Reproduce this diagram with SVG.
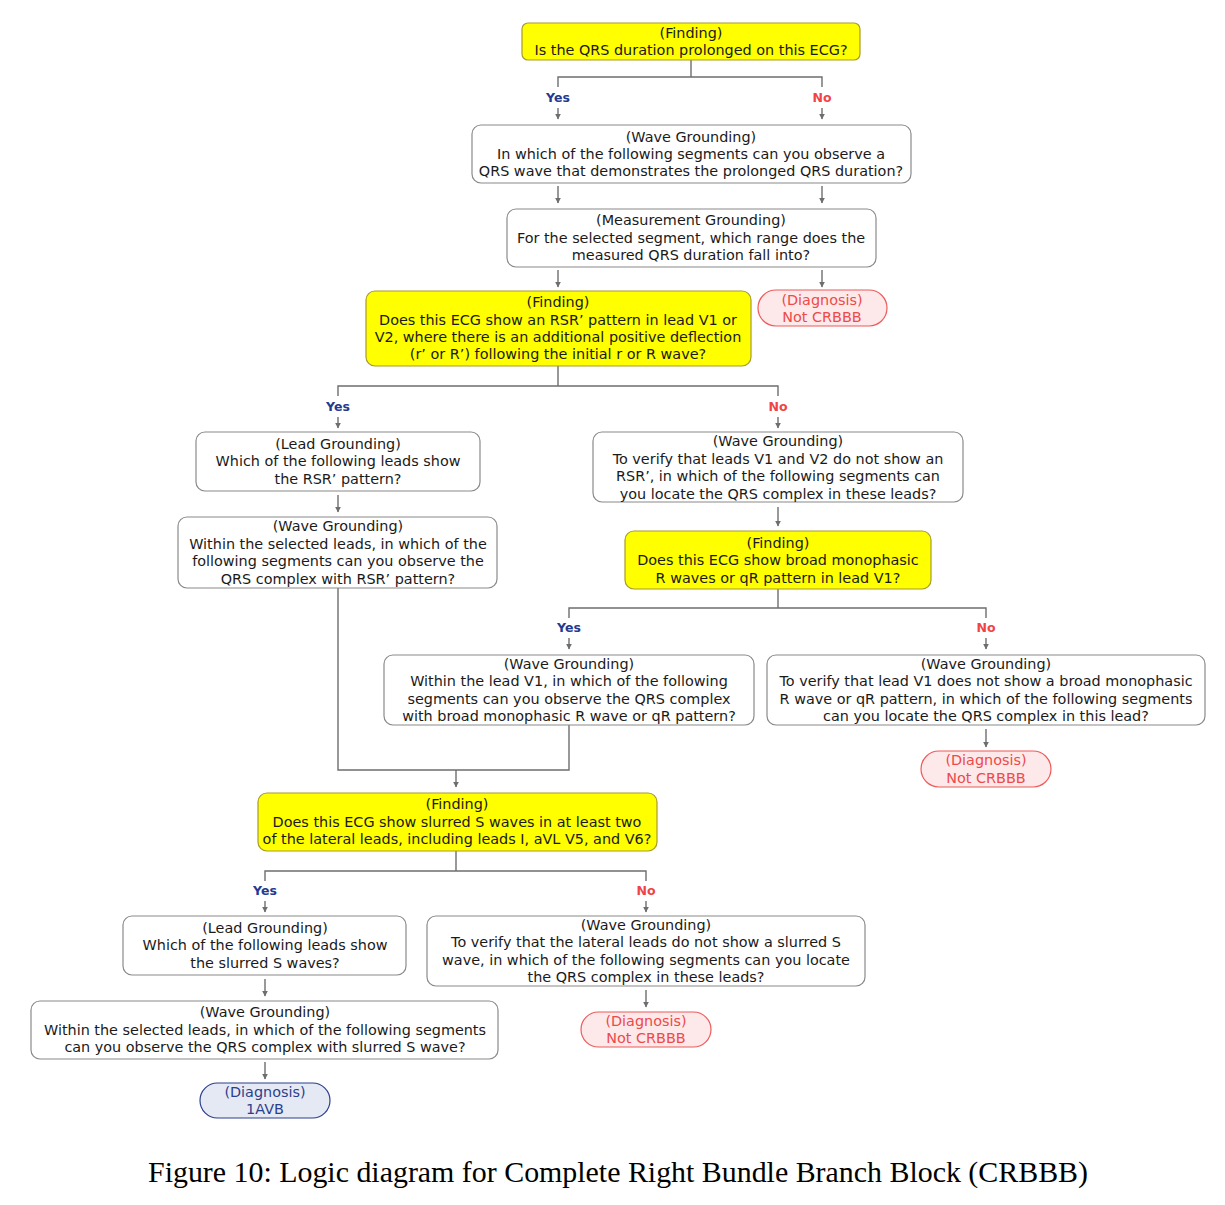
<svg xmlns="http://www.w3.org/2000/svg" width="1225" height="1205" viewBox="0 0 1225 1205">
<style>
.n{fill:#fff;stroke:#8a8a8a;stroke-width:1.2}
.f{fill:#ffff00;stroke:#a89c2a;stroke-width:1.2}
.dn{fill:#fde9e9;stroke:#ee5a5a;stroke-width:1.2}
.db{fill:#e5e9f4;stroke:#2c3f8c;stroke-width:1.2}
text{font-family:"DejaVu Sans","Liberation Sans",sans-serif;font-size:14.4px;text-anchor:middle;fill:#1a1a1a;dominant-baseline:central}
.rt{fill:#ee4a4a}
.bt{fill:#2c3f8c}
.y{font-weight:bold;fill:#233a8e;font-size:12.5px}
.no{font-weight:bold;fill:#f04444;font-size:12.5px}
.c{fill:none;stroke:#6e6e6e;stroke-width:1.4}
.cap{font-family:"Liberation Serif",serif;font-size:29.5px;dominant-baseline:alphabetic;fill:#000}
</style>
<defs>
<marker id="a" viewBox="0 0 10 10" refX="9" refY="5" markerWidth="6" markerHeight="6" orient="auto" markerUnits="userSpaceOnUse">
<path d="M0,0L10,5L0,10z" fill="#6e6e6e"/>
</marker>
</defs>
<g id="connectors">
<path class="c" d="M691,60V77M558,87V77H822V87"/>
<path class="c" d="M558,108V119" marker-end="url(#a)"/>
<path class="c" d="M822,108V119" marker-end="url(#a)"/>
<path class="c" d="M558,186V203" marker-end="url(#a)"/>
<path class="c" d="M822,186V203" marker-end="url(#a)"/>
<path class="c" d="M558,270V287" marker-end="url(#a)"/>
<path class="c" d="M822,270V287" marker-end="url(#a)"/>
<path class="c" d="M558,366V386M338,396V386H778V396"/>
<path class="c" d="M338,417V428" marker-end="url(#a)"/>
<path class="c" d="M778,417V428" marker-end="url(#a)"/>
<path class="c" d="M338,495V512" marker-end="url(#a)"/>
<path class="c" d="M778,507V526" marker-end="url(#a)"/>
<path class="c" d="M778,589V608M569,618V608H986V618"/>
<path class="c" d="M569,638V649" marker-end="url(#a)"/>
<path class="c" d="M986,638V649" marker-end="url(#a)"/>
<path class="c" d="M986,729V747" marker-end="url(#a)"/>
<path class="c" d="M338,588V770H569V725"/>
<path class="c" d="M456,770V787" marker-end="url(#a)"/>
<path class="c" d="M456,851V871M265,881V871H646V881"/>
<path class="c" d="M265,901V912" marker-end="url(#a)"/>
<path class="c" d="M646,901V912" marker-end="url(#a)"/>
<path class="c" d="M265,979V996" marker-end="url(#a)"/>
<path class="c" d="M646,990V1007" marker-end="url(#a)"/>
<path class="c" d="M265,1062V1079" marker-end="url(#a)"/>
<text class="y" x="558" y="97">Yes</text>
<text class="no" x="822" y="97">No</text>
<text class="y" x="338" y="406">Yes</text>
<text class="no" x="778" y="406">No</text>
<text class="y" x="569" y="627">Yes</text>
<text class="no" x="986" y="627">No</text>
<text class="y" x="265" y="890">Yes</text>
<text class="no" x="646" y="890">No</text>
</g>
<g id="n1"><rect class="f" x="522" y="23" width="338" height="37" rx="6"/>
<text x="691" y="33">(Finding)</text><text x="691" y="50">Is the QRS duration prolonged on this ECG?</text></g>
<g id="n2"><rect class="n" x="472" y="125" width="439" height="58" rx="9"/>
<text x="691" y="137">(Wave Grounding)</text><text x="691" y="154">In which of the following segments can you observe a</text><text x="691" y="171">QRS wave that demonstrates the prolonged QRS duration?</text></g>
<g id="n3"><rect class="n" x="507" y="209" width="369" height="58" rx="9"/>
<text x="691" y="220">(Measurement Grounding)</text><text x="691" y="238">For the selected segment, which range does the</text><text x="691" y="255">measured QRS duration fall into?</text></g>
<g id="n4"><rect class="f" x="366" y="291" width="385" height="75" rx="9"/>
<text x="558" y="302">(Finding)</text><text x="558" y="320">Does this ECG show an RSR’ pattern in lead V1 or</text><text x="558" y="337">V2, where there is an additional positive deflection</text><text x="558" y="354">(r’ or R’) following the initial r or R wave?</text></g>
<g id="d1"><rect class="dn" x="758" y="290" width="129" height="36" rx="18"/>
<text class="rt" x="822" y="300">(Diagnosis)</text><text class="rt" x="822" y="317">Not CRBBB</text></g>
<g id="n5"><rect class="n" x="196" y="432" width="284" height="59" rx="9"/>
<text x="338" y="444">(Lead Grounding)</text><text x="338" y="461">Which of the following leads show</text><text x="338" y="479">the RSR’ pattern?</text></g>
<g id="n6"><rect class="n" x="593" y="432" width="370" height="70" rx="9"/>
<text x="778" y="441">(Wave Grounding)</text><text x="778" y="459">To verify that leads V1 and V2 do not show an</text><text x="778" y="476">RSR’, in which of the following segments can</text><text x="778" y="494">you locate the QRS complex in these leads?</text></g>
<g id="n7"><rect class="n" x="178" y="517" width="319" height="71" rx="9"/>
<text x="338" y="526">(Wave Grounding)</text><text x="338" y="544">Within the selected leads, in which of the</text><text x="338" y="561">following segments can you observe the</text><text x="338" y="579">QRS complex with RSR’ pattern?</text></g>
<g id="n8"><rect class="f" x="625" y="531" width="306" height="58" rx="9"/>
<text x="778" y="543">(Finding)</text><text x="778" y="560">Does this ECG show broad monophasic</text><text x="778" y="578">R waves or qR pattern in lead V1?</text></g>
<g id="n9"><rect class="n" x="384" y="655" width="370" height="70" rx="9"/>
<text x="569" y="664">(Wave Grounding)</text><text x="569" y="681">Within the lead V1, in which of the following</text><text x="569" y="699">segments can you observe the QRS complex</text><text x="569" y="716">with broad monophasic R wave or qR pattern?</text></g>
<g id="n10"><rect class="n" x="767" y="655" width="438" height="70" rx="9"/>
<text x="986" y="664">(Wave Grounding)</text><text x="986" y="681">To verify that lead V1 does not show a broad monophasic</text><text x="986" y="699">R wave or qR pattern, in which of the following segments</text><text x="986" y="716">can you locate the QRS complex in this lead?</text></g>
<g id="d2"><rect class="dn" x="921" y="751" width="130" height="36" rx="18"/>
<text class="rt" x="986" y="760">(Diagnosis)</text><text class="rt" x="986" y="778">Not CRBBB</text></g>
<g id="n11"><rect class="f" x="258" y="793" width="399" height="58" rx="9"/>
<text x="457" y="804">(Finding)</text><text x="457" y="822">Does this ECG show slurred S waves in at least two</text><text x="457" y="839">of the lateral leads, including leads I, aVL V5, and V6?</text></g>
<g id="n12"><rect class="n" x="123" y="916" width="283" height="59" rx="9"/>
<text x="265" y="928">(Lead Grounding)</text><text x="265" y="945">Which of the following leads show</text><text x="265" y="963">the slurred S waves?</text></g>
<g id="n13"><rect class="n" x="427" y="916" width="438" height="70" rx="9"/>
<text x="646" y="925">(Wave Grounding)</text><text x="646" y="942">To verify that the lateral leads do not show a slurred S</text><text x="646" y="960">wave, in which of the following segments can you locate</text><text x="646" y="977">the QRS complex in these leads?</text></g>
<g id="n14"><rect class="n" x="31" y="1001" width="467" height="58" rx="9"/>
<text x="265" y="1012">(Wave Grounding)</text><text x="265" y="1030">Within the selected leads, in which of the following segments</text><text x="265" y="1047">can you observe the QRS complex with slurred S wave?</text></g>
<g id="d3"><rect class="dn" x="581" y="1012" width="130" height="35" rx="17.5"/>
<text class="rt" x="646" y="1021">(Diagnosis)</text><text class="rt" x="646" y="1038">Not CRBBB</text></g>
<g id="d4"><rect class="db" x="200" y="1083" width="130" height="35" rx="17.5"/>
<text class="bt" x="265" y="1092">(Diagnosis)</text><text class="bt" x="265" y="1109">1AVB</text></g>
<text class="cap" x="618" y="1182" textLength="940" lengthAdjust="spacingAndGlyphs">Figure 10: Logic diagram for Complete Right Bundle Branch Block (CRBBB)</text>
</svg>
